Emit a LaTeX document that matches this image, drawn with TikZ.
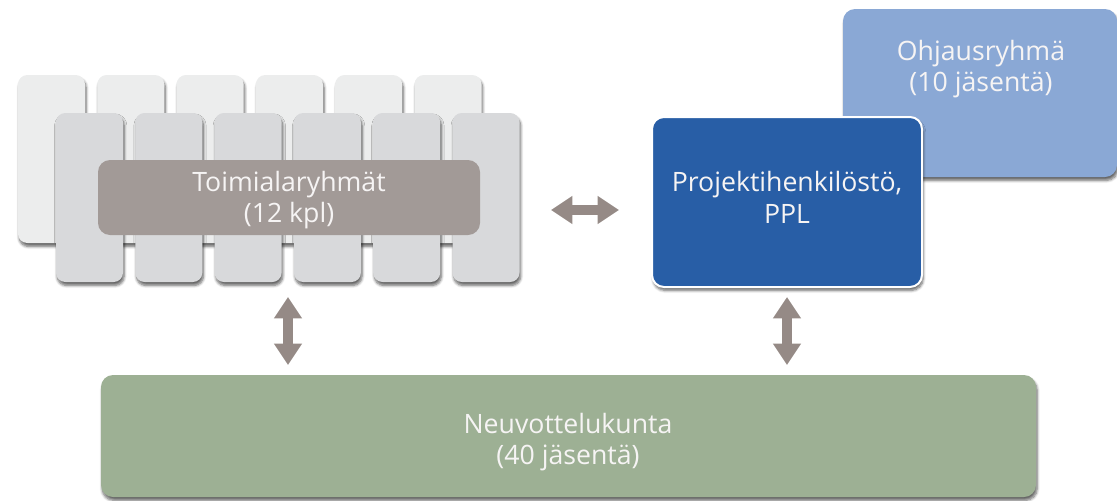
\documentclass[tikz,border=0pt]{standalone}
\usepackage{fontspec}
\setmainfont{Open Sans}
\usetikzlibrary{arrows.meta,shadows.blur}
\definecolor{backgray}{HTML}{ECEDED}
\definecolor{frontgray}{HTML}{D8D9DB}
\definecolor{overlaybrown}{HTML}{A29A97}
\definecolor{arrowbrown}{HTML}{958A86}
\definecolor{darkblue}{HTML}{285EA6}
\definecolor{lightblue}{HTML}{8AA8D5}
\definecolor{sage}{HTML}{9DB094}
\definecolor{txtwhite}{HTML}{F6F4F4}
\tikzset{
  shd/.style={blur shadow={shadow xshift=0.9pt, shadow yshift=-2.6pt, shadow blur steps=6, shadow opacity=60, shadow blur radius=2pt}},
  backbox/.style={shd, fill=backgray, rounded corners=7pt, minimum width=50.25pt, minimum height=126pt, inner sep=0pt},
  frontbox/.style={shd, fill=frontgray, rounded corners=7pt, minimum width=50.25pt, minimum height=126.75pt, inner sep=0pt},
  lbl/.style={text=txtwhite, font=\fontsize{20}{23.5}\selectfont, align=center},
  dbl/.style={draw=arrowbrown, line width=7.5pt, {Triangle[width=20pt,length=16pt]}-{Triangle[width=20pt,length=16pt]}, shorten <=0pt, shorten >=0pt}
}
\begin{document}
\begin{tikzpicture}[x=0.75pt, y=-0.75pt]
\useasboundingbox (0,0) rectangle (1117,500);
% back row
\foreach \i in {0,...,5} {
  \node[backbox] (b\i) at ({51.5+79.3*\i},159) {};
}
% front row
\foreach \i in {0,...,5} {
  \node[frontbox] (f\i) at ({89.5+79.3*\i},197.5) {};
}
% overlay
\node[fill=overlaybrown, rounded corners=9pt, minimum width=286.5pt, minimum height=56.25pt, inner sep=0pt] (toim) at (289,197.5) {};
\node[lbl] (toimtxt) at (289,200) {Toimialaryhmät\\(12 kpl)};
% steering group
\node[shd, fill=lightblue, rounded corners=9pt, minimum width=205.5pt, minimum height=126pt, inner sep=0pt] (ohj) at (980,93) {};
\node[lbl] (ohjtxt) at (981,69) {Ohjausryhmä\\(10 jäsentä)};
% project staff
\node[shd, fill=darkblue, draw=white, line width=1.5pt, rounded corners=9pt, minimum width=202.5pt, minimum height=127.5pt, inner sep=0pt] (proj) at (787,202) {};
\node[lbl] (projtxt) at (787,197.5) {Projektihenkilöstö,\\PPL};
% advisory board
\node[shd, fill=sage, rounded corners=9pt, minimum width=701.25pt, minimum height=91.5pt, inner sep=0pt] (neuv) at (568.5,436) {};
\node[lbl] (neuvtxt) at (568,442) {Neuvottelukunta\\(40 jäsentä)};
% arrows
\coordinate (h1) at (551,210);
\coordinate (h2) at (619,210);
\coordinate (v1a) at (288,297);
\coordinate (v1b) at (288,365);
\coordinate (v2a) at (787,297);
\coordinate (v2b) at (787,365);
\draw[dbl] (h1) -- (h2);
\draw[dbl] (v1a) -- (v1b);
\draw[dbl] (v2a) -- (v2b);
\end{tikzpicture}
\end{document}
